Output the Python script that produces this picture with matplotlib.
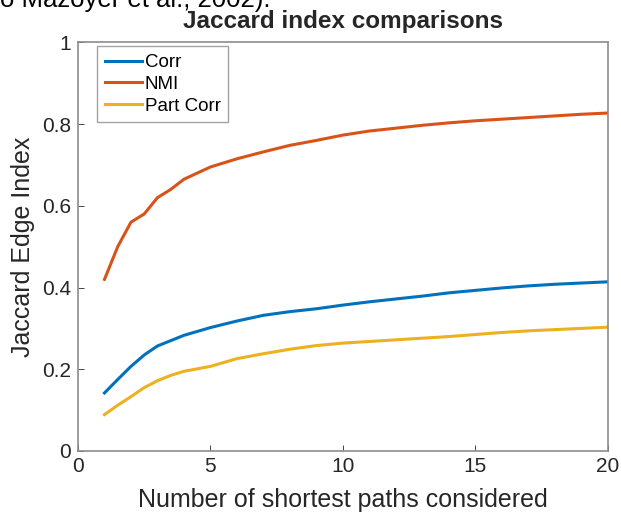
import matplotlib
matplotlib.use("Agg")
from matplotlib import pyplot as plt

plt.rcParams['font.family'] = ['Liberation Sans', 'DejaVu Sans']

# number of shortest paths considered
paths = [1, 1.5, 2, 2.5, 3, 3.5, 4, 5, 6, 7, 8, 9, 10, 11, 12, 13, 14, 15, 16, 17, 18, 19, 20]

jaccard_corr = [0.142, 0.175, 0.207, 0.235, 0.257, 0.270, 0.283, 0.302, 0.318, 0.332, 0.341, 0.348,
                0.357, 0.365, 0.372, 0.379, 0.387, 0.393, 0.399, 0.404, 0.408, 0.411, 0.414]
jaccard_nmi = [0.420, 0.500, 0.560, 0.580, 0.620, 0.640, 0.665, 0.695, 0.715, 0.732, 0.748, 0.760,
               0.773, 0.783, 0.790, 0.797, 0.803, 0.808, 0.812, 0.816, 0.820, 0.824, 0.827]
jaccard_partcorr = [0.089, 0.112, 0.133, 0.155, 0.172, 0.185, 0.195, 0.207, 0.226, 0.238, 0.249, 0.258,
                    0.264, 0.268, 0.272, 0.276, 0.280, 0.285, 0.290, 0.294, 0.297, 0.300, 0.303]

fig = plt.figure(figsize=(6.21, 5.14), dpi=100)
ax = fig.add_axes([0.1256, 0.1226, 0.853, 0.795])

ax.plot(paths, jaccard_corr, color='#0072BD', lw=2.2, label='Corr')
ax.plot(paths, jaccard_nmi, color='#D95319', lw=2.2, label='NMI')
ax.plot(paths, jaccard_partcorr, color='#EDB120', lw=2.2, label='Part Corr')

ax.set_xlim(0, 20)
ax.set_ylim(0, 1)
ax.set_xticks([0, 5, 10, 15, 20])
ax.set_yticks([0, 0.2, 0.4, 0.6, 0.8, 1])
ax.set_yticklabels(['0', '0.2', '0.4', '0.6', '0.8', '1'])
ax.tick_params(direction='in', labelsize=15, colors='#262626', length=4, width=0.6,
               top=False, right=False)
ax.tick_params(axis='x', pad=4)
ax.tick_params(axis='y', pad=5)
for s in ax.spines.values():
    s.set_color('#8c8c8c')
    s.set_linewidth(1.2)

ax.set_xlabel('Number of shortest paths considered', fontsize=18, color='#262626', labelpad=9)
ax.set_ylabel('Jaccard Edge Index', fontsize=18, color='#262626', labelpad=5)
ax.set_title('Jaccard index comparisons', fontsize=17.5, fontweight='bold', color='#262626', pad=10)

leg = ax.legend(loc='upper left', bbox_to_anchor=(0.036, 0.99), borderaxespad=0,
                fontsize=13.5, frameon=True, fancybox=False, edgecolor='#8c8c8c',
                handlelength=2.0, handletextpad=0.15, labelspacing=0.25, borderpad=0.4)
leg.get_frame().set_linewidth(1.0)

# text of the surrounding document, cut off at the top
fig.text(0.0, 1.0, 'o Mazoyer et al., 2002).', fontsize=18.5, ha='left', va='center', color='black')

fig.savefig('out.png', dpi=100)
